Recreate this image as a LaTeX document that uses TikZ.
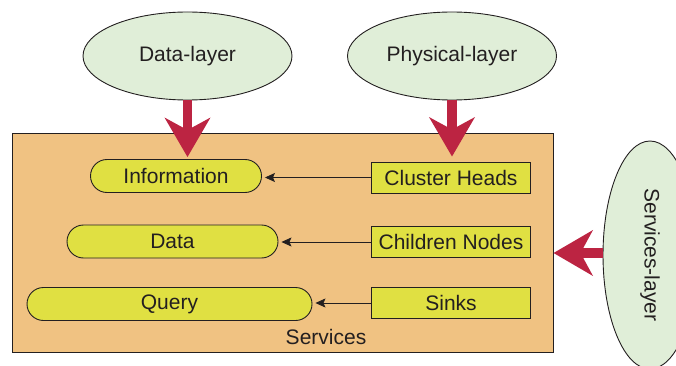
\documentclass[tikz,border=0pt]{standalone}
\usepackage{fontspec}
\setmainfont{Liberation Sans}
\usetikzlibrary{shapes.geometric,arrows.meta,calc}
\definecolor{lgreen}{RGB}{224,238,216}
\definecolor{orbox}{RGB}{240,194,130}
\definecolor{ylw}{RGB}{224,224,66}
\definecolor{redar}{RGB}{188,36,66}
\definecolor{ink}{RGB}{35,31,32}
\begin{document}
\begin{tikzpicture}[x=1pt,y=-1pt,
  every node/.style={font=\fontsize{21}{24}\selectfont, text=ink},
  layer/.style={ellipse, draw=ink, line width=0.9pt, fill=lgreen, inner sep=0pt},
  pill/.style={draw=ink, line width=0.9pt, fill=ylw, rounded corners=16.5pt, minimum height=33pt, inner sep=0pt},
  rbox/.style={draw=ink, line width=0.9pt, fill=ylw, minimum width=159pt, minimum height=31pt, inner sep=0pt},
  bigarrow/.style={draw=redar, line width=9.5pt, -{Stealth[length=39pt, width=45pt, inset=12pt, fill=redar]}},
  thinarrow/.style={draw=ink, line width=0.8pt, -{Stealth[length=10pt, width=9pt, inset=2pt]}}
]
\useasboundingbox (0,0) rectangle (676,366);
\clip (0,0) rectangle (676,366);
% services box
\node[draw=ink, line width=1pt, fill=orbox, minimum width=541pt, minimum height=218pt, inner sep=0pt] (box) at (282.5,243) {};
\node (svc) at (326,337) {Services};
% layer ellipses
\node[layer, minimum width=209pt, minimum height=88pt] (dl) at (187.5,56) {Data-layer};
\node[layer, minimum width=209pt, minimum height=88pt] (pl) at (452,56) {Physical-layer};
\node[layer, rotate=-90, minimum width=228pt, minimum height=94pt] (sl) at (650,255) {Services-layer};
% inner nodes
\node[pill, minimum width=171pt] (info) at (176,176) {Information};
\node[pill, minimum width=211pt] (data) at (172.5,241.5) {Data};
\node[pill, minimum width=285pt] (query) at (169.5,304) {Query};
\node[rbox] (ch) at (451,177.5) {Cluster Heads};
\node[rbox] (cn) at (451,242) {Children Nodes};
\node[rbox] (sk) at (451,303) {Sinks};
% thin arrows
\draw[thinarrow, shorten >=3pt] (ch.west) -- (ch.west -| info.east);
\draw[thinarrow, shorten >=3pt] (cn.west) -- (cn.west -| data.east);
\draw[thinarrow, shorten >=3pt] (sk.west) -- (sk.west -| query.east);
% big red arrows
\draw[bigarrow, shorten >=2pt] (dl.south) -- (dl.south |- info.north);
\draw[bigarrow, shorten >=5pt] (pl.south) -- (pl.south |- ch.north);
\draw[bigarrow] ([yshift=2pt]sl.south) -- ([yshift=2pt]sl.south -| box.east);
\end{tikzpicture}
\end{document}
